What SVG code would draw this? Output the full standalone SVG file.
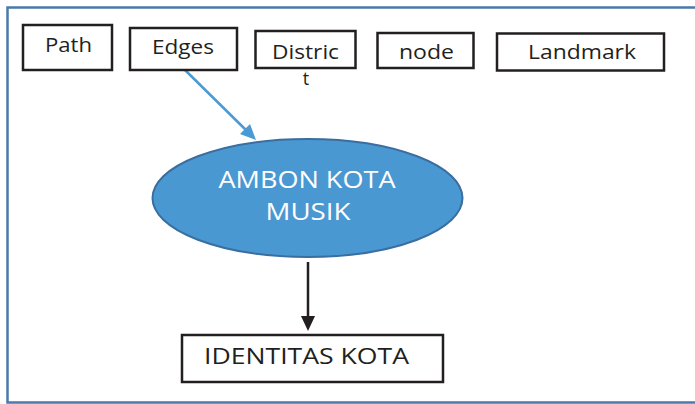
<svg xmlns="http://www.w3.org/2000/svg" width="695" height="404" viewBox="0 0 695 404">
  <style>
    .box { fill: #ffffff; stroke: #231f20; stroke-width: 2.5; }
    .lbl { font-family: "Open Sans", "Liberation Sans", sans-serif; font-size: 20px; fill: #231f20; text-anchor: middle; }
    .big { font-family: "Open Sans", "Liberation Sans", sans-serif; font-size: 23px; fill: #ffffff; text-anchor: middle; }
    .frame { fill: none; stroke: #4a7aa8; stroke-width: 2.5; }
  </style>

  <!-- outer frame: open on the right side -->
  <path class="frame" d="M700,7.5 L7.5,7.5 L7.5,402.5 L700,402.5"/>

  <g id="connectors">
    <line x1="185" y1="70" x2="250" y2="134" stroke="#4a9ad6" stroke-width="2.5"/>
    <path d="M256,140 L240,134 L250,124 z" fill="#4a9ad6"/>
    <line x1="308" y1="262" x2="308" y2="318" stroke="#231f20" stroke-width="2.5"/>
    <path d="M301,316 L315,316 L308,331 z" fill="#231f20"/>
  </g>

  <g id="path">
    <rect class="box" x="23" y="25" width="89" height="45"/>
    <text class="lbl" x="68.5" y="52" textLength="47" lengthAdjust="spacingAndGlyphs">Path</text>
  </g>
  <g id="edges">
    <rect class="box" x="130" y="28" width="107" height="42"/>
    <text class="lbl" x="183" y="54" textLength="62" lengthAdjust="spacingAndGlyphs">Edges</text>
  </g>
  <g id="district">
    <rect class="box" x="255.5" y="31" width="100" height="37"/>
    <text class="lbl" x="305.5" y="59" textLength="67" lengthAdjust="spacingAndGlyphs">Distric</text>
    <text class="lbl" x="306" y="85" style="font-size:18px">t</text>
  </g>
  <g id="node">
    <rect class="box" x="377.5" y="33" width="96" height="35"/>
    <text class="lbl" x="426.5" y="59" textLength="55" lengthAdjust="spacingAndGlyphs">node</text>
  </g>
  <g id="landmark">
    <rect class="box" x="497" y="33.5" width="167" height="37"/>
    <text class="lbl" x="582" y="59" textLength="108" lengthAdjust="spacingAndGlyphs">Landmark</text>
  </g>

  <g id="ambon-kota-musik">
    <ellipse cx="307.5" cy="198" rx="155" ry="59" fill="#4a98d2" stroke="#3a6ea0" stroke-width="2"/>
    <text class="big" x="307" y="188" textLength="177" lengthAdjust="spacingAndGlyphs">AMBON KOTA</text>
    <text class="big" x="308" y="220" textLength="85" lengthAdjust="spacingAndGlyphs">MUSIK</text>
  </g>

  <g id="identitas-kota">
    <rect class="box" x="182" y="335" width="261" height="47"/>
    <text class="lbl" x="306.5" y="364" style="font-size:21px" textLength="205" lengthAdjust="spacingAndGlyphs">IDENTITAS KOTA</text>
  </g>
</svg>
